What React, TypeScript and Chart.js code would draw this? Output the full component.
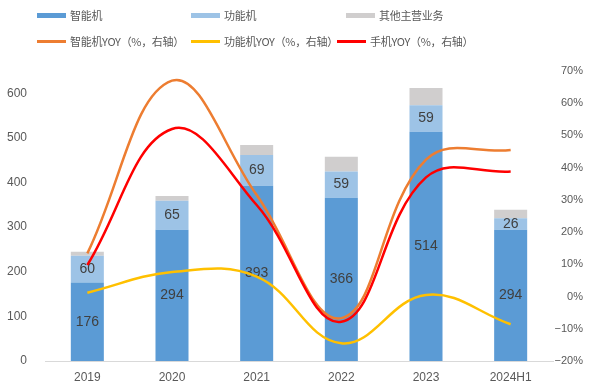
import React, { useEffect, useRef } from 'react';
import { Chart, registerables } from 'chart.js';

Chart.register(...registerables);

const years = ['2019', '2020', '2021', '2022', '2023', '2024H1'];
const smartphone = [176, 294, 393, 366, 514, 294];
const featurePhone = [60, 65, 69, 59, 59, 26];
const otherBusiness = [9, 11, 22, 33, 39, 19];
const smartYoy = [13.4, 67, 31.5, -6.7, 42.5, 45.5];
const featureYoy = [1.2, 7.6, 6.2, -14.5, 0.5, -8.6];
const phoneYoy = [9.8, 52, 28.4, -7.8, 37, 38.8];
const leftTicks = [0, 100, 200, 300, 400, 500, 600];
const rightTicks = [-20, -10, 0, 10, 20, 30, 40, 50, 60, 70];

const C_DARK = '#5B9BD5';
const C_LIGHT = '#9DC3E6';
const C_GRAY = '#D0CECE';
const C_ORANGE = '#ED7D31';
const C_YELLOW = '#FFC000';
const C_RED = '#FF0000';
const TXT = '#595959';

const labeledBars = new Set([0, 1]);

const barLabelPlugin = {
  id: 'barLabels',
  afterDatasetDraw(chart: any, args: any) {
    const ds = chart.data.datasets[args.index];
    if (ds.type !== 'bar' || !labeledBars.has(args.index)) return;
    const ctx = chart.ctx;
    ctx.save();
    ctx.font = '14px "Liberation Sans Narrow", "Liberation Sans", sans-serif';
    ctx.fillStyle = '#404040';
    ctx.textAlign = 'center';
    ctx.textBaseline = 'middle';
    args.meta.data.forEach((bar: any, i: number) => {
      const p = bar.getProps(['x', 'y', 'base'], true);
      ctx.fillText(String(ds.data[i]), p.x, (p.y + p.base) / 2);
    });
    ctx.restore();
  },
};

function LegendItem({ left, top, color, line, text }: any) {
  return (
    <div style={{ position: 'absolute', left, top, display: 'flex', alignItems: 'center', whiteSpace: 'nowrap' }}>
      <span style={{ display: 'inline-block', width: 29, height: line ? 3 : 5, background: color, marginRight: 4 }} />
      <span style={{ fontSize: 11, letterSpacing: '-0.3px', color: TXT, fontFamily: '"Noto Sans CJK SC", "Liberation Sans", sans-serif', lineHeight: '14px' }}>{text}</span>
    </div>
  );
}

export default function App() {
  const ref = useRef<HTMLCanvasElement>(null);
  useEffect(() => {
    if (!ref.current) return;
    const chart = new Chart(ref.current, {
      type: 'bar',
      data: {
        labels: years,
        datasets: [
          { type: 'bar', label: '智能机', data: smartphone, backgroundColor: C_DARK, yAxisID: 'y', stack: 's', order: 10, barPercentage: 0.39, categoryPercentage: 1 },
          { type: 'bar', label: '功能机', data: featurePhone, backgroundColor: C_LIGHT, yAxisID: 'y', stack: 's', order: 10, barPercentage: 0.39, categoryPercentage: 1 },
          { type: 'bar', label: '其他主营业务', data: otherBusiness, backgroundColor: C_GRAY, yAxisID: 'y', stack: 's', order: 10, barPercentage: 0.39, categoryPercentage: 1 },
          { type: 'line', label: '智能机YOY（%，右轴）', data: smartYoy, borderColor: C_ORANGE, borderWidth: 2.5, pointRadius: 0, tension: 0.4, yAxisID: 'y1', order: 3, fill: false },
          { type: 'line', label: '功能机YOY（%，右轴）', data: featureYoy, borderColor: C_YELLOW, borderWidth: 2.5, pointRadius: 0, tension: 0.4, yAxisID: 'y1', order: 2, fill: false },
          { type: 'line', label: '手机YOY（%，右轴）', data: phoneYoy, borderColor: C_RED, borderWidth: 2.5, pointRadius: 0, tension: 0.4, yAxisID: 'y1', order: 1, fill: false },
        ] as any,
      },
      options: {
        responsive: false,
        animation: false,
        layout: { padding: { top: 71, left: 0, right: 9, bottom: 0 } },
        plugins: { legend: { display: false }, tooltip: { enabled: false } },
        scales: {
          x: {
            stacked: true,
            grid: { display: false, drawTicks: false },
            border: { display: true, color: '#D9D9D9', width: 1 },
            ticks: { color: TXT, font: { size: 12, family: '"Liberation Sans", sans-serif' }, padding: 9 },
            afterFit(s: any) { s.height = 27; },
          },
          y: {
            stacked: true,
            position: 'left',
            min: 0,
            max: 650,
            grid: { display: false, drawTicks: false },
            border: { display: false },
            afterBuildTicks(s: any) { s.ticks = leftTicks.map((v) => ({ value: v })); },
            ticks: { color: TXT, font: { size: 12, family: '"Liberation Sans", sans-serif' }, padding: 18 },
            afterFit(s: any) { s.width = 45; },
          },
          y1: {
            stacked: false,
            position: 'right',
            min: -20,
            max: 70,
            grid: { display: false, drawTicks: false },
            border: { display: false },
            afterBuildTicks(s: any) { s.ticks = rightTicks.map((v) => ({ value: v })); },
            ticks: {
              color: TXT,
              crossAlign: 'far',
              font: { size: 11, family: '"Liberation Sans", sans-serif' },
              padding: 10,
              callback: (v: any) => (v < 0 ? '\u2212' + Math.abs(v) : String(v)) + '%',
            },
            afterFit(s: any) { s.width = 30; },
          },
        },
      } as any,
      plugins: [barLabelPlugin],
    });
    return () => chart.destroy();
  }, []);

  return (
    <div style={{ position: 'fixed', left: 0, top: 0, width: 592, height: 388, background: '#fff' }}>
      <canvas ref={ref} width={592} height={388} style={{ position: 'absolute', left: 0, top: 0 }} />
      <LegendItem left={37} top={8} color={C_DARK} text="智能机" />
      <LegendItem left={191} top={8} color={C_LIGHT} text="功能机" />
      <LegendItem left={346} top={8} color={C_GRAY} text="其他主营业务" />
      <LegendItem left={37} top={34} color={C_ORANGE} line text="智能机YOY（%，右轴）" />
      <LegendItem left={191} top={34} color={C_YELLOW} line text="功能机YOY（%，右轴）" />
      <LegendItem left={337} top={34} color={C_RED} line text="手机YOY（%，右轴）" />
    </div>
  );
}
